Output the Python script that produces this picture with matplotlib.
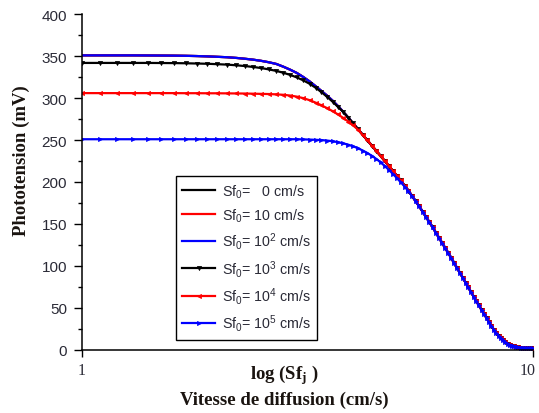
import matplotlib
matplotlib.use('Agg')
import matplotlib.pyplot as plt
import matplotlib.transforms as mtransforms
from matplotlib.ticker import MultipleLocator, NullLocator

plt.rcParams['mathtext.default'] = 'regular'

# Sf_j (cm/s, log axis 1..10), step 0.1
x_vals = [1.0, 1.1, 1.2, 1.3, 1.4, 1.5, 1.6, 1.7, 1.8, 1.9,
          2.0, 2.1, 2.2, 2.3, 2.4, 2.5, 2.6, 2.7, 2.8, 2.9,
          3.0, 3.1, 3.2, 3.3, 3.4, 3.5, 3.6, 3.7, 3.8, 3.9,
          4.0, 4.1, 4.2, 4.3, 4.4, 4.5, 4.6, 4.7, 4.8, 4.9,
          5.0, 5.1, 5.2, 5.3, 5.4, 5.5, 5.6, 5.7, 5.8, 5.9,
          6.0, 6.1, 6.2, 6.3, 6.4, 6.5, 6.6, 6.7, 6.8, 6.9,
          7.0, 7.1, 7.2, 7.3, 7.4, 7.5, 7.6, 7.7, 7.8, 7.9,
          8.0, 8.1, 8.2, 8.3, 8.4, 8.5, 8.6, 8.7, 8.8, 8.9,
          9.0, 9.1, 9.2, 9.3, 9.4, 9.5, 9.6, 9.7, 9.8, 9.9,
          10.0]

# upper curve (Sf0 = 0, 10, 100 cm/s), x = 1.0 .. 5.5
top_head = [351.0, 351.0, 351.0, 351.0, 350.9, 350.8, 350.7, 350.5, 350.2, 349.8,
            349.3, 348.8, 348.0, 347.0, 345.9, 344.5, 342.8, 340.8, 337.5, 333.9,
            330.0, 325.2, 320.0, 314.3, 308.6, 303.0, 297.0, 290.6, 283.8, 276.8,
            269.8, 262.9, 256.2, 249.7, 243.3, 237.2, 231.1, 225.0, 219.1, 213.2,
            207.5, 201.8, 195.7, 189.8, 183.5, 177.2]

# common decay, x = 5.6 .. 10.0
tail = [171.1, 164.7, 158.4, 152.1, 146.0, 139.6, 133.3, 127.2, 121.1, 115.2,
        109.3, 103.1, 97.2, 91.5, 85.8, 80.0, 74.3, 68.7, 63.3, 57.7,
        52.8, 47.6, 42.8, 37.9, 33.0, 28.3, 24.0, 20.0, 16.6, 13.5,
        11.0, 9.0, 7.3, 5.9, 4.8, 4.0, 3.4, 3.0, 2.6, 2.3,
        2.1, 1.9, 1.7, 1.6, 1.5]

# Sf0 = 1e3, x = 1.0 .. 3.8
sf3_head = [342.0, 342.0, 342.0, 342.0, 342.0, 341.9, 341.8, 341.6, 341.3, 341.0,
            340.5, 340.0, 339.2, 338.3, 337.2, 335.9, 334.3, 332.5, 330.3, 327.7,
            324.7, 321.2, 317.2, 312.5, 307.2, 301.6, 295.8, 289.6, 283.6]

# Sf0 = 1e4, x = 1.0 .. 4.2
sf4_head = [306.0, 306.0, 306.0, 306.0, 306.0, 306.0, 306.0, 305.9, 305.9, 305.8,
            305.8, 305.7, 305.6, 305.5, 305.3, 305.1, 304.9, 304.5, 304.0, 303.1,
            301.8, 300.0, 297.6, 294.7, 291.5, 288.1, 284.5, 280.6, 276.5, 272.1,
            267.4, 262.4, 256.0]

# Sf0 = 1e5, x = 1.0 .. 5.5
sf5_head = [251.0, 251.0, 251.0, 251.0, 251.0, 251.0, 251.0, 251.0, 251.0, 251.0,
            251.0, 251.0, 251.0, 251.0, 251.0, 251.0, 251.0, 251.0, 251.0, 251.0,
            251.0, 250.8, 250.6, 250.3, 250.0, 249.4, 248.6, 247.5, 246.1, 244.5,
            242.5, 240.2, 237.5, 234.5, 231.2, 227.5, 223.4, 219.0, 214.4, 209.5,
            204.6, 199.6, 194.6, 189.2, 183.3, 177.1]

sf0_0 = top_head + tail
sf0_10 = top_head + tail
sf0_100 = top_head + tail
sf0_1e3 = sf3_head + top_head[len(sf3_head):] + tail
sf0_1e4 = sf4_head + top_head[len(sf4_head):] + tail
sf0_1e5 = sf5_head + tail

labels = ['Sf$_0$=   0 cm/s', 'Sf$_0$= 10 cm/s', 'Sf$_0$= 10$^{2}$ cm/s',
          'Sf$_0$= 10$^{3}$ cm/s', 'Sf$_0$= 10$^{4}$ cm/s', 'Sf$_0$= 10$^{5}$ cm/s']
series = [sf0_0, sf0_10, sf0_100, sf0_1e3, sf0_1e4, sf0_1e5]
colors = ['#000000', '#ff0000', '#0000ff', '#000000', '#ff0000', '#0000ff']
markers = [None, None, None, 'v', '<', '>']

W, H = 539, 414
fig = plt.figure(figsize=(W / 100, H / 100), dpi=100)
ax = fig.add_axes([81.7 / W, 1 - 350.7 / H, 451 / W, 335.4 / H])

for y, lab, c, m in zip(series, labels, colors, markers):
    ax.plot(x_vals, y, color=c, lw=1.6, marker=m, ms=3, mew=0.5, label=lab)

ax.set_xscale('log')
ax.set_xlim(1, 10)
ax.set_ylim(0, 400)
ax.set_xticks([1, 10])
ax.set_xticklabels(['1', '10'])
ax.xaxis.set_minor_locator(NullLocator())
ax.yaxis.set_major_locator(MultipleLocator(50))
ax.yaxis.set_minor_locator(MultipleLocator(25))

for s in ['top', 'right']:
    ax.spines[s].set_visible(False)
for s in ['left', 'bottom']:
    ax.spines[s].set_linewidth(1.1)

tick_col = '#2a2a36'
ax.tick_params(axis='y', which='major', direction='out', length=6, width=1,
               pad=4.5, labelsize=11, labelcolor=tick_col)
ax.tick_params(axis='y', which='minor', direction='out', length=3, width=1)
ax.tick_params(axis='x', which='major', direction='out', length=5, width=1,
               pad=4, labelsize=11.5, labelcolor=tick_col)
for t in ax.get_yticklabels():
    t.set_fontfamily('Liberation Sans')
xt = ax.get_xticklabels()
for t in xt:
    t.set_fontfamily('Liberation Serif')
# keep the right-hand "10" inside the canvas
shift = mtransforms.ScaledTranslation(-5 / 100, 0, fig.dpi_scale_trans)
xt[-1].set_transform(xt[-1].get_transform() + shift)

leg = ax.legend(loc='upper left', bbox_to_anchor=(0.209, 0.518), borderaxespad=0,
                frameon=True, fancybox=False, edgecolor='black', framealpha=1,
                prop={'family': 'Liberation Sans', 'size': 10.3},
                handlelength=2.3, handletextpad=0.45, labelspacing=0.45,
                borderpad=0.45, numpoints=1)
leg.get_frame().set_linewidth(1.0)
for t in leg.get_texts():
    t.set_color(tick_col)

lab_col = '#1a1410'
fig.text(284 / W, 1 - 375 / H, 'log (Sf$_j$ )', ha='center', va='center',
         fontsize=13.5, fontweight='bold', family='Liberation Serif', color=lab_col)
fig.text(284 / W, 1 - 400 / H, 'Vitesse de diffusion (cm/s)', ha='center', va='center',
         fontsize=13.5, fontweight='bold', family='Liberation Serif', color=lab_col)
fig.text(21.7 / W, 1 - 161 / H, 'Phototension (mV)', ha='center', va='center',
         rotation=90, fontsize=13.5, fontweight='bold', family='Liberation Serif',
         color=lab_col)

fig.savefig('out.png', dpi=100)
